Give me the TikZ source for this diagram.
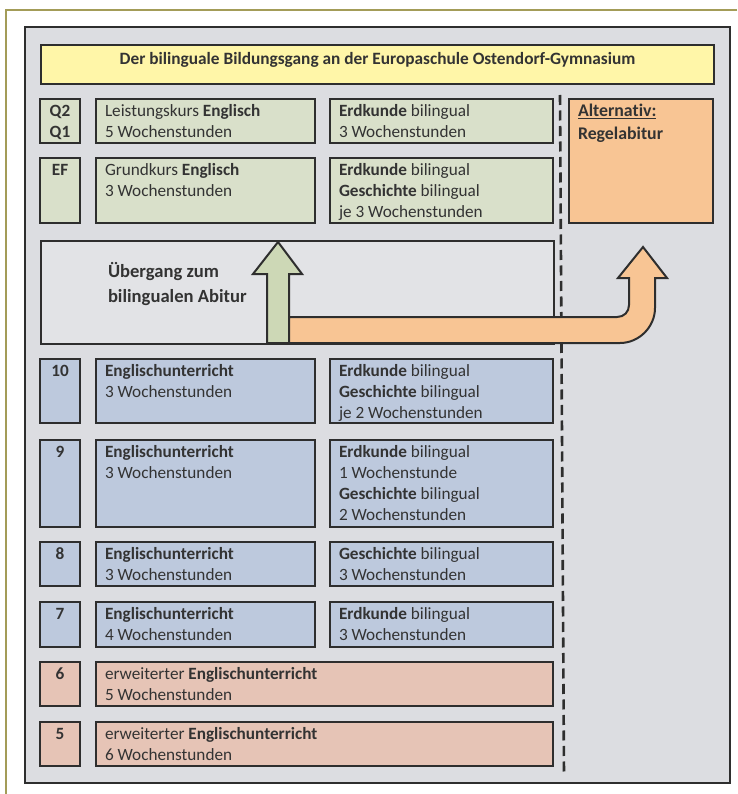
\documentclass[tikz,border=0pt]{standalone}
\usepackage{fontspec}
\setmainfont{Carlito}[Ligatures=NoCommon]
\definecolor{bggray}{HTML}{DCDDE1}
\definecolor{titleyellow}{HTML}{FFF6A8}
\definecolor{cgreen}{HTML}{D9E0CA}
\definecolor{agreen}{HTML}{CDD8B6}
\definecolor{cblue}{HTML}{BDC9DD}
\definecolor{cpink}{HTML}{E6C4B6}
\definecolor{corange}{HTML}{F8C594}
\definecolor{cuber}{HTML}{E2E3E6}
\definecolor{lincol}{HTML}{2E2E2E}
\definecolor{olive}{HTML}{A39C58}
\definecolor{txtcol}{HTML}{333333}
\tikzset{
  cellbox/.style={draw=lincol,line width=2pt,inner sep=0pt,outer sep=0pt},
  celltext/.style={inner sep=0pt,outer sep=0pt,text=txtcol,font=\fontsize{17.2}{21}\selectfont},
  greencell/.style={fill=cgreen},
  bluecell/.style={fill=cblue},
  pinkcell/.style={fill=cpink},
  arrowline/.style={draw=lincol,line width=2pt,line join=miter},
  dashsep/.style={draw=lincol,line width=2.6pt,dash pattern=on 10pt off 5.5pt},
}
\newcommand\cell[7]{%
  \node[cellbox,#6,minimum width=#4pt,minimum height=#5pt,anchor=north west] (#1) at (#2,#3) {};
  \node[celltext,anchor=base west] (#1t) at ([xshift=9pt,yshift=-17.5pt]#1.north west)
    {\parbox[t]{\dimexpr#4pt-18pt\relax}{\raggedright #7}};
}
\newcommand\lab[5]{%
  \node[cellbox,#4,minimum width=40pt,minimum height=#3pt,anchor=north west] (#1) at (40,#2) {};
  \node[celltext,anchor=base] (#1t) at ([yshift=-17.5pt]#1.north)
    {\parbox[t]{36pt}{\centering\bfseries #5}};
}
\begin{document}
\begin{tikzpicture}[x=1pt,y=-1pt]
\useasboundingbox (0,0) rectangle (737,794);
\fill[white] (0,0) rectangle (737,794);
% olive frame
\coordinate (fa) at (737,10);
\coordinate (fb) at (6,10);
\coordinate (fc) at (6,794);
\draw[olive,line width=2pt] (fa) -- (fb) -- (fc);
% main gray panel
\node[draw=lincol,fill=bggray,line width=2pt,minimum width=705pt,minimum height=756pt,anchor=north west,inner sep=0pt] (panel) at (24,26) {};
% title
\node[draw=lincol,fill=titleyellow,line width=2pt,minimum width=673pt,minimum height=39pt,anchor=north west,inner sep=0pt] (title) at (40,44) {};
\node[celltext,anchor=base,font=\fontsize{17.3}{20}\selectfont\bfseries] (titlet) at ([yshift=-21pt]title.north) {Der bilinguale Bildungsgang an der Europaschule Ostendorf-Gymnasium};
% dashed separator
\coordinate (dtop) at (560,95);
\coordinate (dbot) at (564,776);
\draw[dashsep] (dtop) -- (dbot);
% Q2/Q1
\lab{lq}{99}{44}{greencell}{Q2\\Q1}
\cell{mq}{96}{99}{219}{44}{greencell}{Leistungskurs \textbf{Englisch}\\5 Wochenstunden}
\cell{rq}{330}{99}{223}{44}{greencell}{\textbf{Erdkunde} bilingual\\3 Wochenstunden}
% EF
\lab{lef}{158}{65}{greencell}{EF}
\cell{mef}{96}{158}{219}{65}{greencell}{Grundkurs \textbf{Englisch}\\3 Wochenstunden}
\cell{ref}{330}{158}{223}{65}{greencell}{\textbf{Erdkunde} bilingual\\\textbf{Geschichte} bilingual\\je 3 Wochenstunden}
% Alternativ
\node[cellbox,fill=corange,minimum width=144pt,minimum height=124pt,anchor=north west] (alt) at (569,99) {};
\node[celltext,anchor=base west,font=\fontsize{17.8}{23}\selectfont\bfseries] (altt) at ([xshift=9pt,yshift=-18pt]alt.north west)
  {\parbox[t]{130pt}{\underline{Alternativ:}\\Regelabitur}};
% Uebergang
\node[draw=lincol,fill=cuber,line width=1.6pt,minimum width=513pt,minimum height=103pt,anchor=north west,inner sep=0pt] (uber) at (40,240) {};
\node[celltext,anchor=base west,font=\fontsize{18.6}{25}\selectfont\bfseries] (ubert) at (108,277)
  {\parbox[t]{160pt}{Übergang zum\\bilingualen Abitur}};
% green arrow
\coordinate (g1) at (267,343);
\coordinate (g2) at (267,274);
\coordinate (g3) at (253,274);
\coordinate (g4) at (278,242);
\coordinate (g5) at (302,274);
\coordinate (g6) at (289,274);
\coordinate (g7) at (289,343);
\draw[arrowline,fill=agreen] (g1) -- (g2) -- (g3) -- (g4) -- (g5) -- (g6) -- (g7) -- cycle;
% orange arrow
\coordinate (o1) at (289,317);
\coordinate (o2) at (617,317);
\coordinate (o3) at (629,305);
\coordinate (o4) at (629,278);
\coordinate (o5) at (618,278);
\coordinate (o6) at (643,247);
\coordinate (o7) at (667,278);
\coordinate (o8) at (655,278);
\coordinate (o9) at (655,308);
\coordinate (o10) at (620,343);
\coordinate (o11) at (289,343);
\draw[arrowline,fill=corange] (o1) -- (o2) .. controls (624,317) and (629,312) .. (o3) -- (o4) -- (o5) -- (o6) -- (o7) -- (o8) -- (o9)
  .. controls (655,327) and (639,343) .. (o10) -- (o11) -- cycle;
% 10
\lab{l10}{359}{64}{bluecell}{10}
\cell{m10}{96}{359}{219}{64}{bluecell}{\textbf{Englischunterricht}\\3 Wochenstunden}
\cell{r10}{330}{359}{223}{64}{bluecell}{\textbf{Erdkunde} bilingual\\\textbf{Geschichte} bilingual\\je 2 Wochenstunden}
% 9
\lab{l9}{440}{87}{bluecell}{9}
\cell{m9}{96}{440}{219}{87}{bluecell}{\textbf{Englischunterricht}\\3 Wochenstunden}
\cell{r9}{330}{440}{223}{87}{bluecell}{\textbf{Erdkunde} bilingual\\1 Wochenstunde\\\textbf{Geschichte} bilingual\\2 Wochenstunden}
% 8
\lab{l8}{542}{44}{bluecell}{8}
\cell{m8}{96}{542}{219}{44}{bluecell}{\textbf{Englischunterricht}\\3 Wochenstunden}
\cell{r8}{330}{542}{223}{44}{bluecell}{\textbf{Geschichte} bilingual\\3 Wochenstunden}
% 7
\lab{l7}{602}{45}{bluecell}{7}
\cell{m7}{96}{602}{219}{45}{bluecell}{\textbf{Englischunterricht}\\4 Wochenstunden}
\cell{r7}{330}{602}{223}{45}{bluecell}{\textbf{Erdkunde} bilingual\\3 Wochenstunden}
% 6
\lab{l6}{662}{44}{pinkcell}{6}
\cell{m6}{96}{662}{457}{44}{pinkcell}{erweiterter \textbf{Englischunterricht}\\5 Wochenstunden}
% 5
\lab{l5}{722}{44}{pinkcell}{5}
\cell{m5}{96}{722}{457}{44}{pinkcell}{erweiterter \textbf{Englischunterricht}\\6 Wochenstunden}
\end{tikzpicture}
\end{document}
